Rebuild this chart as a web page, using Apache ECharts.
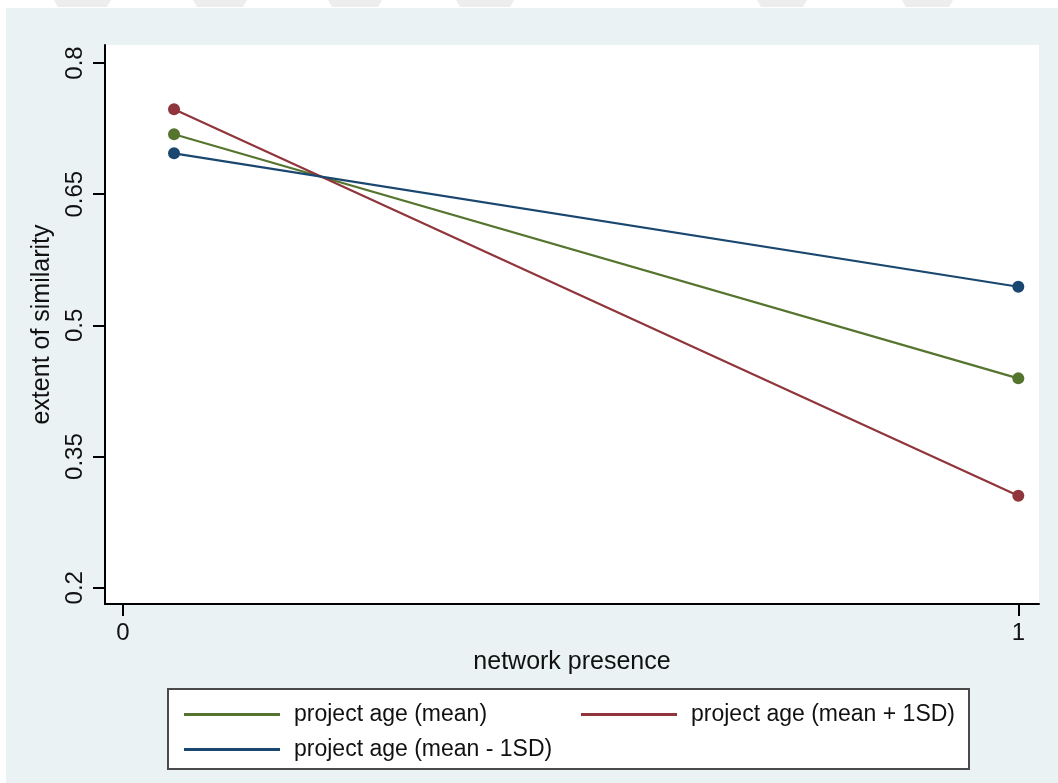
<!DOCTYPE html>
<html>
<head>
<meta charset="utf-8">
<title>extent of similarity by network presence</title>
<script src="https://cdn.jsdelivr.net/npm/echarts@6/dist/echarts.min.js"></script>
<style>
  html, body { margin: 0; padding: 0; background: #ffffff; }
  #chart { width: 1058px; height: 783px; }
</style>
</head>
<body>
<div id="chart"></div>
<script>
// Predicted extent of similarity at two levels of network presence,
// for three values of project age.
const seriesNames = ['project age (mean)', 'project age (mean + 1SD)', 'project age (mean - 1SD)'];
const networkPresence = [0.057, 1];
const ageMean = [0.7185, 0.4394];
const ageMeanPlus1SD = [0.747, 0.3052];
const ageMeanMinus1SD = [0.6967, 0.5442];
const yTicks = [0.2, 0.35, 0.5, 0.65, 0.8];
const xTicks = [0, 1];

const colors = ['#55752f', '#90353b', '#1a476f'];
const font = 'Liberation Sans, Arial, Helvetica, sans-serif';

function pairs(xs, ys) {
  return xs.map((x, i) => [x, ys[i]]);
}

const seriesValues = [ageMean, ageMeanPlus1SD, ageMeanMinus1SD];

const chart = echarts.init(document.getElementById('chart'), null, { renderer: 'canvas' });

// faint strip of shapes along the very top edge
const topShapes = [[54, 111], [193, 247], [328, 382], [456, 514], [757, 807], [902, 953]].map(([a, b]) => ({
  type: 'polygon',
  z: -100,
  shape: { points: [[a, 0], [b, 0], [b - 4, 7], [a + 4, 7]] },
  style: { fill: '#ededed' }
}));

chart.setOption({
  animation: false,
  color: colors,
  graphic: {
    z: -100,
    elements: [
      {
        type: 'rect',
        z: -100,
        shape: { x: 6, y: 8, width: 1052, height: 775 },
        style: { fill: '#eaf2f3' }
      }
    ].concat(topShapes)
  },
  grid: {
    left: 105, right: 19, top: 45, bottom: 179,
    show: true, backgroundColor: '#ffffff', borderWidth: 0
  },
  xAxis: {
    type: 'value',
    min: -0.0201, max: 1.0231,
    name: 'network presence',
    nameLocation: 'middle',
    nameGap: 46,
    nameTextStyle: { fontSize: 25, color: '#111', fontFamily: font },
    splitLine: { show: false },
    axisLine: { show: true, onZero: false, lineStyle: { color: '#000', width: 2 } },
    axisTick: { show: true, length: 12, lineStyle: { color: '#000', width: 2 }, customValues: xTicks },
    axisLabel: { fontSize: 24, color: '#111', fontFamily: font, margin: 17, customValues: xTicks }
  },
  yAxis: {
    type: 'value',
    min: 0.1814, max: 0.8206,
    name: 'extent of similarity',
    nameLocation: 'middle',
    nameGap: 40,
    nameRotate: 90,
    nameTextStyle: { fontSize: 25, color: '#111', fontFamily: font },
    splitLine: { show: false },
    axisLine: { show: true, onZero: false, lineStyle: { color: '#000', width: 2 } },
    axisTick: { show: true, length: 12, lineStyle: { color: '#000', width: 2 }, customValues: yTicks },
    axisLabel: {
      fontSize: 24, color: '#111', fontFamily: font, margin: 18, rotate: 90,
      customValues: yTicks,
      formatter: v => String(+v.toFixed(2))
    }
  },
  legend: {
    left: 168, top: 689, width: 820,
    orient: 'horizontal',
    icon: 'rect',
    itemWidth: 96, itemHeight: 3,
    itemGap: 12,
    padding: [14, 3, 8, 16],
    backgroundColor: '#ffffff',
    borderColor: '#4a4a4a',
    borderWidth: 2,
    borderRadius: 0,
    textStyle: {
      fontSize: 23, lineHeight: 23, color: '#111', fontFamily: font,
      width: 275, padding: [0, 0, 0, 9]
    },
    data: seriesNames
  },
  series: seriesNames.map((name, i) => ({
    name,
    type: 'line',
    data: pairs(networkPresence, seriesValues[i]),
    symbol: 'circle',
    symbolSize: 12,
    lineStyle: { width: 2.2, color: colors[i] },
    itemStyle: { color: colors[i] }
  }))
});
</script>
</body>
</html>
